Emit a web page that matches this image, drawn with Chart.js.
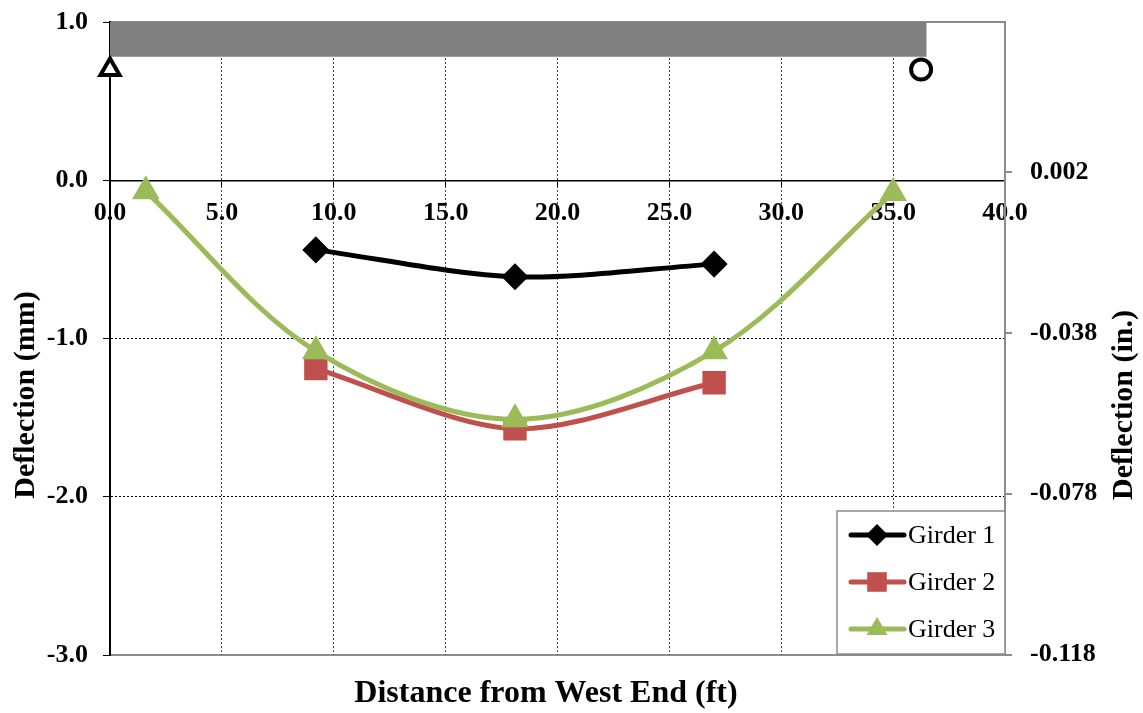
<!DOCTYPE html>
<html>
<head>
<meta charset="utf-8">
<script src="https://cdn.jsdelivr.net/npm/chart.js@4.4.0/dist/chart.umd.min.js"></script>
<style>
  html, body { margin: 0; padding: 0; background: #fff; }
</style>
</head>
<body>
<canvas id="deflChart" width="1143" height="713"></canvas>
<script>
// distance from west end (ft) / deflection (mm)
const g1X = [9.2, 18.1, 27.0];
const g1Y = [-0.44, -0.61, -0.53];
const g2X = [9.2, 18.1, 27.0];
const g2Y = [-1.19, -1.57, -1.28];
const g3X = [1.6, 9.2, 18.1, 27.0, 35.0];
const g3Y = [-0.07, -1.08, -1.51, -1.08, -0.08];

// beam sketch on top + supports
const beamX = [0, 36.5];
const beamTop = 1.0;
const beamBottom = 0.78;
const pinSupport = [0, 0.70];
const rollerSupport = [36.25, 0.70];

// axes
const mmMin = -3, mmMax = 1, mmStep = 1;
const ftMin = 0, ftMax = 40, ftStep = 5;
const inchTicks = [-0.118, -0.078, -0.038, 0.002];
const MM_PER_IN = 25.4;

const SERIF = "'Liberation Serif', 'Times New Roman', serif";
const GREY = "#8c8c8c";
const C1 = "#000000", C2 = "#c0504d", C3 = "#9bbb59";

const pts = (xs, ys) => xs.map((x, i) => ({ x: x, y: ys[i] }));

// draw a marker (legend only)
function mark(c, style, x, y, r, col) {
  c.fillStyle = col;
  c.beginPath();
  if (style === "diamond") {
    c.moveTo(x, y - r); c.lineTo(x + r, y); c.lineTo(x, y + r); c.lineTo(x - r, y);
  } else if (style === "square") {
    c.rect(x - r * 0.7, y - r * 0.7, r * 1.4, r * 1.4);
  } else {
    c.moveTo(x, y - r); c.lineTo(x + r * 0.87, y + r * 0.5); c.lineTo(x - r * 0.87, y + r * 0.5);
  }
  c.closePath();
  c.fill();
}

const plotFrame = {
  id: "plotFrame",
  beforeDraw(chart) {
    const a = chart.chartArea, c = chart.ctx;
    c.save();
    c.strokeStyle = GREY;
    c.lineWidth = 2;
    c.beginPath();
    c.moveTo(a.left, a.top); c.lineTo(a.right, a.top);
    c.lineTo(a.right, a.bottom); c.lineTo(a.left, a.bottom);
    c.stroke();
    c.restore();
  }
};

const axisTitles = {
  id: "axisTitles",
  afterDraw(chart) {
    const c = chart.ctx;
    c.save();
    c.fillStyle = "#000";
    c.textAlign = "center";
    c.textBaseline = "middle";
    c.font = "bold 32px " + SERIF;
    c.fillText("Distance from West End (ft)", 546, 694);
    c.font = "bold 30px " + SERIF;
    c.save();
    c.translate(26, 395); c.rotate(-Math.PI / 2);
    c.fillText("Deflection (mm)", 0, 0);
    c.restore();
    c.save();
    c.translate(1124, 405); c.rotate(-Math.PI / 2);
    c.fillText("Deflection (in.)", 0, 0);
    c.restore();
    c.restore();
  }
};

const girderLegend = {
  id: "girderLegend",
  afterDraw(chart) {
    const c = chart.ctx;
    const items = [
      ["Girder 1", C1, "diamond", 11],
      ["Girder 2", C2, "square", 14],
      ["Girder 3", C3, "triangle", 12]
    ];
    c.save();
    c.fillStyle = "#fff";
    c.fillRect(837, 511, 168, 143);
    c.strokeStyle = GREY;
    c.lineWidth = 1.5;
    c.strokeRect(837, 511, 168, 143);
    c.font = "26px " + SERIF;
    c.textBaseline = "middle";
    items.forEach((it, i) => {
      const y = 535 + i * 47;
      c.strokeStyle = it[1];
      c.lineWidth = 5;
      c.lineCap = "round";
      c.beginPath(); c.moveTo(851, y); c.lineTo(904, y); c.stroke();
      mark(c, it[2], 877, y, it[3], it[1]);
      c.fillStyle = "#000";
      c.fillText(it[0], 908, y + 1);
    });
    c.restore();
  }
};

// keep tick label padding from pushing the plot area down
const noEdgePad = s => { s.paddingTop = 0; s.paddingBottom = 0; };

new Chart(document.getElementById("deflChart"), {
  type: "scatter",
  data: {
    datasets: [
      {
        label: "Girder 1", data: pts(g1X, g1Y), showLine: true, tension: 0.3,
        borderColor: C1, backgroundColor: C1, borderWidth: 5,
        pointStyle: "rectRot", pointRadius: 10, pointHoverRadius: 10, order: 3
      },
      {
        label: "Girder 2", data: pts(g2X, g2Y), showLine: true, tension: 0.3,
        borderColor: C2, backgroundColor: C2, borderWidth: 5,
        pointStyle: "rect", pointRadius: 13, pointHoverRadius: 13, order: 2
      },
      {
        label: "Girder 3", data: pts(g3X, g3Y), showLine: true, tension: 0.33,
        borderColor: C3, backgroundColor: C3, borderWidth: 5,
        pointStyle: "triangle", pointRadius: 11, pointHoverRadius: 11, order: 1
      },
      {
        label: "beam", data: pts(beamX, [beamTop, beamTop]), showLine: true,
        borderWidth: 0, pointRadius: 0, backgroundColor: "#808080",
        fill: { value: beamBottom }, order: 10
      },
      {
        label: "pin", data: [{ x: pinSupport[0], y: pinSupport[1] }],
        pointStyle: "triangle", pointRadius: 11, borderWidth: 4,
        borderColor: "#000", backgroundColor: "#fff", clip: false, order: 0
      },
      {
        label: "roller", data: [{ x: rollerSupport[0], y: rollerSupport[1] }],
        pointStyle: "circle", pointRadius: 10, borderWidth: 4,
        borderColor: "#000", backgroundColor: "#fff", clip: false, order: 0
      }
    ]
  },
  options: {
    responsive: false,
    devicePixelRatio: 1,
    animation: false,
    layout: { padding: { top: 22, bottom: 58, left: 0, right: 0 } },
    plugins: {
      legend: { display: false },
      tooltip: { enabled: false },
      title: { display: false }
    },
    scales: {
      x: {
        type: "linear",
        position: { y: 0 },
        min: ftMin, max: ftMax,
        ticks: {
          stepSize: ftStep,
          color: "#000",
          font: { family: SERIF, size: 26, weight: "bold" },
          padding: 12,
          maxRotation: 0,
          callback: v => v.toFixed(1)
        },
        grid: {
          color: ctx => (ctx.tick && (ctx.tick.value === ftMin || ctx.tick.value === ftMax)) ? "rgba(0,0,0,0)" : "#444",
          lineWidth: 1,
          tickLength: 5,
          tickColor: "#000",
          tickBorderDash: []
        },
        border: { color: "#000", width: 1.5, dash: [2, 2] }
      },
      y: {
        type: "linear",
        position: "left",
        min: mmMin, max: mmMax,
        afterFit: s => { s.width = 110; noEdgePad(s); },
        ticks: {
          stepSize: mmStep,
          color: "#000",
          font: { family: SERIF, size: 26, weight: "bold" },
          padding: 15,
          callback: v => v.toFixed(1)
        },
        grid: {
          color: ctx => (ctx.tick && (ctx.tick.value === mmMin || ctx.tick.value === mmMax || ctx.tick.value === 0)) ? "rgba(0,0,0,0)" : "#000",
          lineWidth: 1,
          tickLength: 7,
          tickColor: "#000",
          tickBorderDash: []
        },
        border: { color: "#000", width: 2, dash: [2, 2] }
      },
      y2: {
        type: "linear",
        position: "right",
        min: mmMin / MM_PER_IN, max: mmMax / MM_PER_IN,
        afterFit: s => { s.width = 138; noEdgePad(s); },
        afterBuildTicks: s => { s.ticks = inchTicks.map(v => ({ value: v })); },
        ticks: {
          color: "#000",
          font: { family: SERIF, size: 26, weight: "bold" },
          padding: 18,
          callback: v => v.toFixed(3)
        },
        grid: {
          drawOnChartArea: false,
          tickLength: 7,
          tickColor: GREY,
          lineWidth: 2
        },
        border: { color: GREY, width: 2 }
      }
    }
  },
  plugins: [plotFrame, axisTitles, girderLegend]
});
</script>
</body>
</html>
